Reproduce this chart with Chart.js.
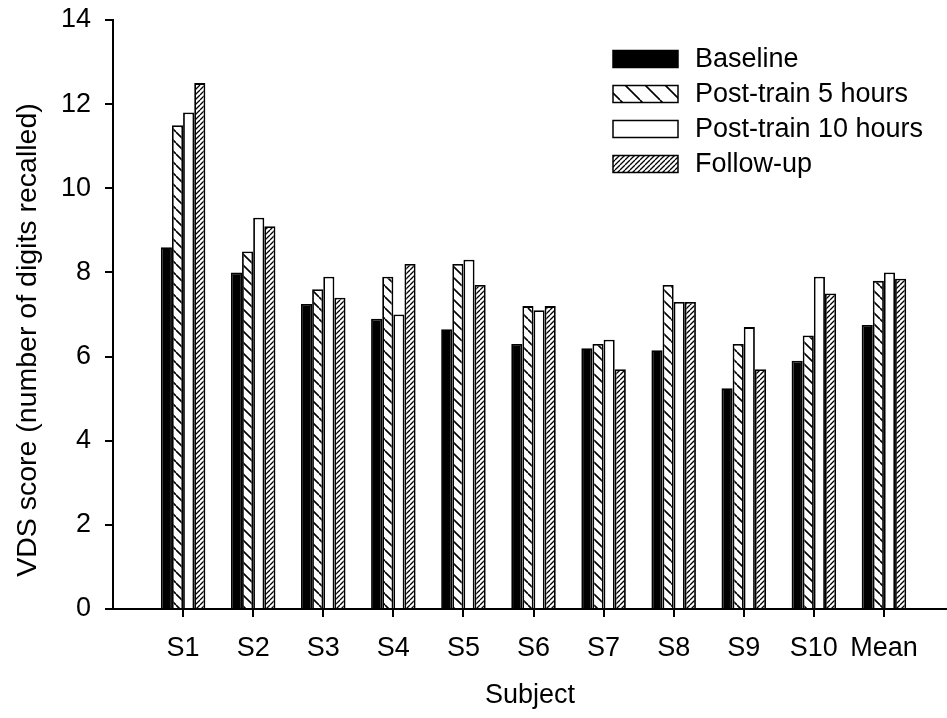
<!DOCTYPE html>
<html><head><meta charset="utf-8">
<script src="https://cdn.jsdelivr.net/npm/chart.js@4.4.1/dist/chart.umd.min.js"></script>
<style>html,body{margin:0;padding:0;background:#fff}canvas{display:block}</style>
</head><body>
<canvas id="c" width="947" height="718" style="width:947px;height:718px"></canvas>
<script>
const categories = ['S1','S2','S3','S4','S5','S6','S7','S8','S9','S10','Mean'];
const seriesNames = ['Baseline','Post-train 5 hours','Post-train 10 hours','Follow-up'];
const baseline = [8.6, 8.0, 7.25, 6.9, 6.65, 6.3, 6.2, 6.15, 5.25, 5.9, 6.75];
const post5    = [11.5, 8.5, 7.6, 7.9, 8.2, 7.2, 6.3, 7.7, 6.3, 6.5, 7.8];
const post10   = [11.8, 9.3, 7.9, 7.0, 8.3, 7.1, 6.4, 7.3, 6.7, 7.9, 8.0];
const followUp = [12.5, 9.1, 7.4, 8.2, 7.7, 7.2, 5.7, 7.3, 5.7, 7.5, 7.85];
const yTicks = [0, 2, 4, 6, 8, 10, 12, 14];
const xTitle = 'Subject';
const yTitle = 'VDS score (number of digits recalled)';

const F = "'Liberation Sans', Arial, Helvetica, sans-serif";
const canvas = document.getElementById('c');
const ctx = canvas.getContext('2d');

function hatch(spacing, dir, lw) {
  const t = document.createElement('canvas');
  t.width = spacing; t.height = spacing;
  const g = t.getContext('2d');
  g.fillStyle = '#fff'; g.fillRect(0, 0, spacing, spacing);
  g.strokeStyle = '#000'; g.lineWidth = lw;
  g.beginPath();
  for (let k = -1; k <= 2; k++) {
    if (dir === 'back') { g.moveTo(k * spacing, 0); g.lineTo(k * spacing + spacing, spacing); }
    else { g.moveTo(k * spacing, 0); g.lineTo(k * spacing - spacing, spacing); }
  }
  g.stroke();
  return g.createPattern(t, 'repeat');
}

const fills = ['#000', hatch(11, 'back', 1.6), '#fff', hatch(5, 'fwd', 1.3)];
const legendFills = ['#000', hatch(20, 'back', 1.6), '#fff', hatch(5, 'fwd', 1.3)];
const seriesData = [baseline, post5, post10, followUp];

const legendPlugin = {
  id: 'insideLegend',
  afterDraw(chart) {
    const c = chart.ctx;
    c.save();
    seriesNames.forEach((name, j) => {
      const cy = 59 + j * 35;
      c.fillStyle = legendFills[j];
      c.fillRect(613, cy - 8.5, 65, 17);
      c.strokeStyle = '#000'; c.lineWidth = 1.5;
      c.strokeRect(613, cy - 8.5, 65, 17);
      c.fillStyle = '#000';
      c.font = '27px ' + F;
      c.textAlign = 'left'; c.textBaseline = 'middle';
      c.fillText(name, 695, cy + 1);
    });
    c.restore();
  }
};

const yTitlePlugin = {
  id: 'yAxisTitle',
  afterDraw(chart) {
    const c = chart.ctx;
    c.save();
    c.translate(28, 340);
    c.rotate(-Math.PI / 2);
    c.fillStyle = '#000';
    c.font = '28.5px ' + F;
    c.textAlign = 'center'; c.textBaseline = 'middle';
    c.fillText(yTitle, 0, 0);
    c.restore();
  }
};

new Chart(ctx, {
  type: 'bar',
  data: {
    datasets: seriesData.map((arr, j) => ({
      label: seriesNames[j],
      data: arr.map((v, i) => ({ x: i, y: v })),
      backgroundColor: fills[j],
      borderColor: '#000',
      borderWidth: 1.8
    }))
  },
  options: {
    responsive: false,
    animation: false,
    devicePixelRatio: 1,
    layout: { padding: { top: 20, right: 0, bottom: 0, left: 0 } },
    datasets: { bar: { barPercentage: 1, categoryPercentage: 0.635 } },
    plugins: { legend: { display: false }, tooltip: { enabled: false } },
    scales: {
      x: {
        type: 'linear', min: -1, max: 10.9, offset: false,
        afterBuildTicks: s => { s.ticks = categories.map((_, i) => ({ value: i })); },
        afterFit: s => { s.height = 109; s.paddingLeft = 0; s.paddingRight = 0; },
        ticks: {
          callback: v => categories[v] ?? '',
          font: { family: F, size: 27 }, color: '#000', padding: 15,
          maxRotation: 0, autoSkip: false
        },
        grid: { display: true, offset: false, drawOnChartArea: false, drawTicks: true, tickLength: 8, color: '#000', lineWidth: 2 },
        border: { display: true, color: '#000', width: 2 },
        title: { display: true, text: xTitle, font: { family: F, size: 27 }, color: '#000', padding: { top: 0, bottom: 6 } }
      },
      y: {
        min: 0, max: 14,
        afterBuildTicks: s => { s.ticks = yTicks.map(v => ({ value: v })); },
        afterFit: s => { s.width = 113; s.paddingTop = 0; s.paddingBottom = 0; },
        ticks: { font: { family: F, size: 27 }, color: '#000', padding: 14 },
        grid: { display: true, offset: false, drawOnChartArea: false, drawTicks: true, tickLength: 8, color: '#000', lineWidth: 2 },
        border: { display: true, color: '#000', width: 2 }
      }
    }
  },
  plugins: [legendPlugin, yTitlePlugin]
});
</script>
</body></html>
